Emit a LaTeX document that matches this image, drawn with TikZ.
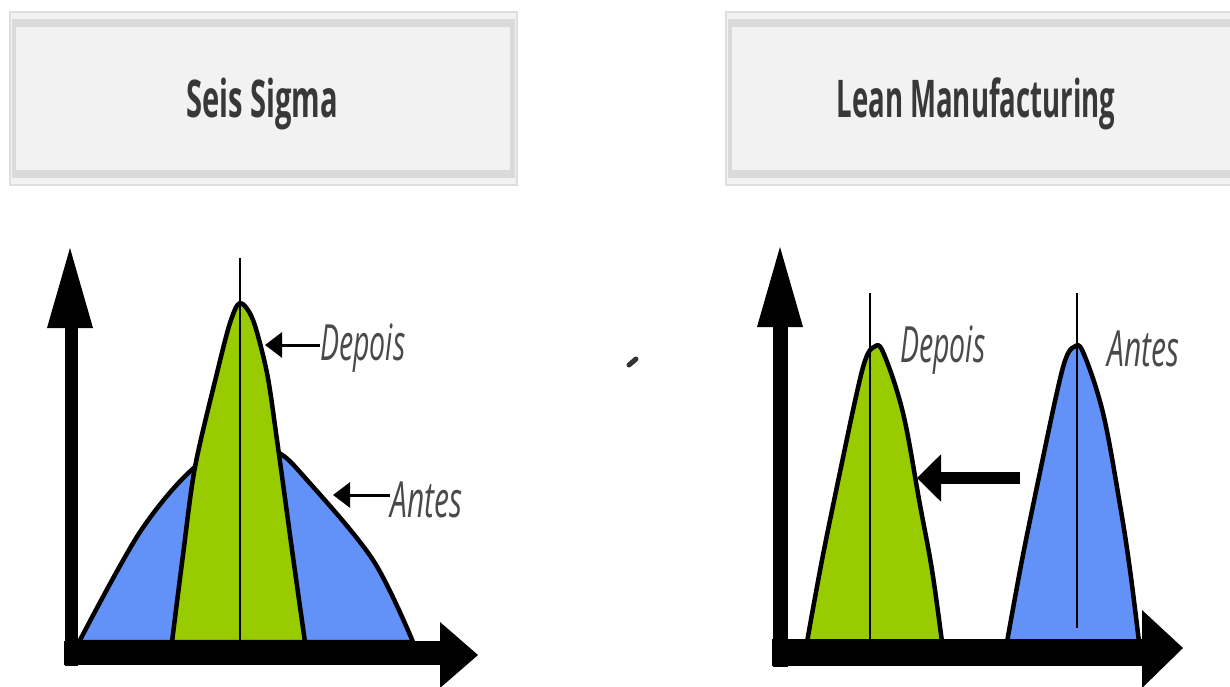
\documentclass[tikz,border=0pt]{standalone}
\usepackage{fontspec}
\setmainfont{Open Sans}
\usetikzlibrary{arrows.meta}
\definecolor{boxfill}{HTML}{F2F2F2}
\definecolor{boxedge}{HTML}{DEDEDE}
\definecolor{boxband}{HTML}{DADADA}
\definecolor{titleink}{HTML}{383838}
\definecolor{labelink}{HTML}{4A4A4A}
\definecolor{antes}{HTML}{6291F7}
\definecolor{depois}{HTML}{99CC00}
\tikzset{
  headbox/.style={draw=boxedge, fill=boxfill, line width=1.5pt},
  bandstrip/.style={fill=boxband},
  titletext/.style={font=\bfseries\fontsize{52}{60}\selectfont, text=titleink, inner sep=0pt, anchor=base},
  labeltext/.style={font=\itshape\fontsize{50}{58}\selectfont, text=labelink, inner sep=0pt, anchor=base west},
  curve/.style={draw=black, line width=4.5pt, line join=round},
  midline/.style={draw=black, line width=1.2pt},
  axisshaft/.style={draw=black},
  axishead/.style={fill=black},
  pointer/.style={draw=black, line width=3pt, -{Triangle[length=17pt,width=25pt]}},
  shiftarrow/.style={draw=black, line width=12pt, -{Triangle[length=24pt,width=46pt]}}
}
\begin{document}
\begin{tikzpicture}[x=1pt,y=-1pt]
\useasboundingbox (0,0) rectangle (1230,687);
\fill[white] (0,0) rectangle (1230,687);

% ---- header panels ----
\draw[headbox] (10,12) rectangle (517,185);
\fill[bandstrip] (13,19) rectangle (514,27);
\fill[bandstrip] (13,170) rectangle (514,178);
\fill[bandstrip] (12,19) rectangle (16,178);
\fill[bandstrip] (510,19) rectangle (515,178);
\node[titletext] (t1) at (262,118) {\scalebox{0.56}[1]{Seis Sigma}};

\draw[headbox] (726,12) rectangle (1232,185);
\fill[bandstrip] (729,19) rectangle (1230,27);
\fill[bandstrip] (729,170) rectangle (1230,178);
\fill[bandstrip] (728,19) rectangle (732,178);
\node[titletext] (t2) at (976,118) {\scalebox{0.53}[1]{Lean Manufacturing}};

% ---- Seis Sigma: spread narrows around the same mean ----
\draw[curve, fill=antes] plot[smooth, tension=0.55] coordinates
  {(79,642) (140,532) (195,467) (240,448) (277,452) (307,480) (373,560) (413,642)} -- cycle;
\draw[curve, fill=depois] plot[smooth, tension=0.5] coordinates
  {(172,642) (183,555) (195,467) (217,373) (230,323) (240,303) (253,320) (267,373) (277,440) (293,557) (305,642)} -- cycle;
\draw[midline] (240,258) -- (240,642);

\node[labeltext] (depL) at (320,360) {\scalebox{0.57}[1]{Depois}};
\node[labeltext] (antL) at (390,517) {\scalebox{0.6}[1]{Antes}};
\coordinate (depLtip) at (265,345);
\coordinate (antLtip) at (333,495);
\draw[pointer] (depL.west |- depLtip) -- (depLtip);
\draw[pointer] (antL.west |- antLtip) -- (antLtip);

% axes
\draw[axisshaft, line width=13pt] (71,666) -- (71,320);
\fill[axishead] (47,328) -- (70,248) -- (93,328) -- cycle;
\draw[axisshaft, line width=24pt] (64,653) -- (445,653);
\fill[axishead] (440,622) -- (478,655) -- (440,688) -- cycle;

% ---- Lean Manufacturing: the mean moves ----
\draw[curve, fill=depois] plot[smooth, tension=0.6] coordinates
  {(807,642) (822,560) (840,472) (857,392) (866,358) (874,347) (883,352) (903,413) (920,505) (932,570) (942,642)} -- cycle;
\draw[curve, fill=antes] plot[smooth, tension=0.6] coordinates
  {(1007,642) (1022,560) (1040,472) (1057,392) (1066,358) (1074,347) (1083,352) (1103,413) (1120,505) (1130,570) (1139,642)} -- cycle;
\draw[midline] (870,293) -- (870,642);
\draw[midline] (1077,293) -- (1077,628);

\node[labeltext] (depR) at (900,362) {\scalebox{0.57}[1]{Depois}};
\node[labeltext] (antR) at (1107,366) {\scalebox{0.6}[1]{Antes}};

\coordinate (shiftfrom) at (1020,478);
\coordinate (shiftto) at (917,478);
\draw[shiftarrow] (shiftfrom) -- (shiftto);

% axes
\draw[axisshaft, line width=15pt] (780,667) -- (780,320);
\fill[axishead] (757,327) -- (780,247) -- (803,327) -- cycle;
\draw[axisshaft, line width=27pt] (772,652) -- (1148,652);
\fill[axishead] (1142,610) -- (1183,648) -- (1142,688) -- cycle;

% small stray mark
\draw[black!80, line width=5pt, line cap=round] (629,365) -- (636,359);
\end{tikzpicture}
\end{document}
